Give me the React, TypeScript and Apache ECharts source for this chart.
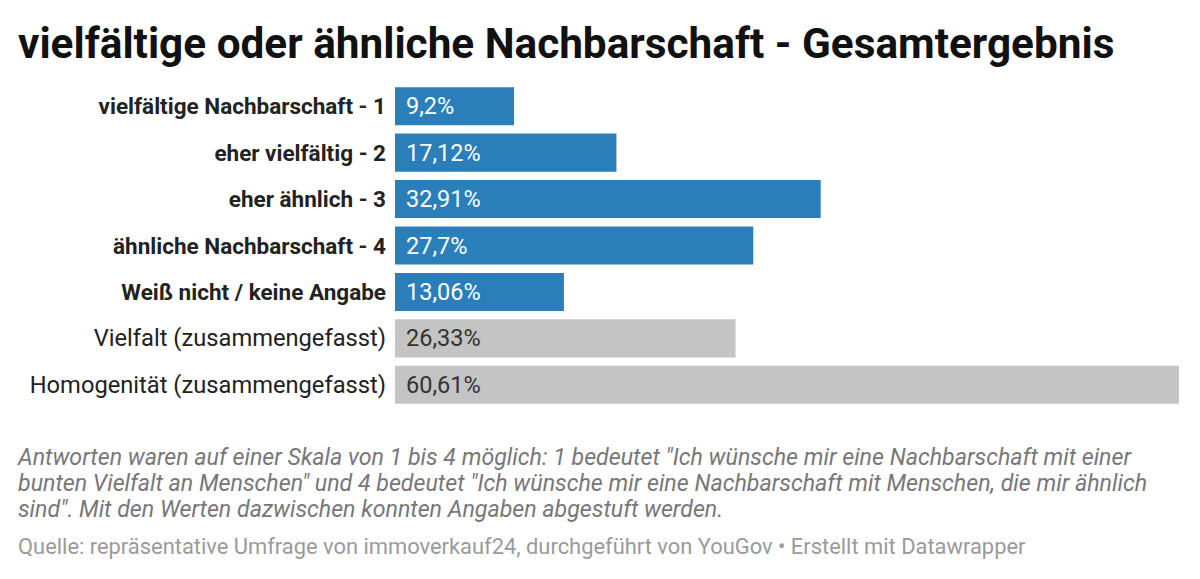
import React, { useEffect, useRef } from "react";
import * as echarts from "echarts";

const categories = [
  "vielfältige Nachbarschaft - 1",
  "eher vielfältig - 2",
  "eher ähnlich - 3",
  "ähnliche Nachbarschaft - 4",
  "Weiß nicht / keine Angabe",
  "Vielfalt (zusammengefasst)",
  "Homogenität (zusammengefasst)",
];
const values = [9.2, 17.12, 32.91, 27.7, 13.06, 26.33, 60.61];
const boldRows = [true, true, true, true, true, false, false];
const barColors = ["#2a7fba", "#2a7fba", "#2a7fba", "#2a7fba", "#2a7fba", "#c4c4c4", "#c4c4c4"];
const labelColors = ["#ffffff", "#ffffff", "#ffffff", "#ffffff", "#ffffff", "#333333", "#333333"];

const titleText = "vielfältige oder ähnliche Nachbarschaft - Gesamtergebnis";
const noteLines = [
  'Antworten waren auf einer Skala von 1 bis 4 möglich: 1 bedeutet "Ich wünsche mir eine Nachbarschaft mit einer',
  'bunten Vielfalt an Menschen" und 4 bedeutet "Ich wünsche mir eine Nachbarschaft mit Menschen, die mir ähnlich',
  'sind". Mit den Werten dazwischen konnten Angaben abgestuft werden.',
];
const sourceText = "Quelle: repräsentative Umfrage von immoverkauf24, durchgeführt von YouGov • Erstellt mit Datawrapper";

export default function App() {
  const ref = useRef<HTMLDivElement>(null);
  useEffect(() => {
    const chart = echarts.init(ref.current!, null, { renderer: "svg" });
    const font = "Roboto, 'Noto Sans', sans-serif";
    chart.setOption({
      animation: false,
      textStyle: { fontFamily: font },
      grid: { left: 395, right: 21, top: 83, bottom: 579 - 408, containLabel: false },
      xAxis: {
        type: "value",
        min: 0,
        max: 60.61,
        show: false,
      },
      yAxis: {
        type: "category",
        data: categories,
        inverse: true,
        axisLine: { show: false },
        axisTick: { show: false },
        axisLabel: {
          margin: 9,
          fontFamily: font,
          formatter: (v: string, i: number) => (boldRows[i] ? `{b|${v}}` : `{n|${v}}`),
          rich: {
            b: { fontSize: 22.5, fontWeight: "bold", color: "#222222", fontFamily: font },
            n: { fontSize: 23.7, color: "#222222", fontFamily: font },
          },
        },
      },
      series: [
        {
          type: "bar",
          barCategoryGap: "18%",
          data: values.map((v, i) => ({
            value: v,
            itemStyle: { color: barColors[i] },
            label: { color: labelColors[i] },
          })),
          label: {
            show: true,
            position: "insideLeft",
            distance: 11,
            fontSize: 23.5,
            fontFamily: font,
            formatter: (p: any) => String(p.value).replace(".", ",") + "%",
          },
        },
      ],
      graphic: [
        {
          type: "text",
          x: 18,
          y: 43,
          style: {
            text: titleText,
            fontSize: 42.3,
            fontWeight: "bold",
            fill: "#111111",
            fontFamily: font,
            verticalAlign: "middle",
          },
        },
        ...noteLines.map((t, i) => ({
          type: "text",
          x: 18,
          y: 457 + i * 26,
          style: {
            text: t,
            fontSize: 23.2,
            fontStyle: "italic",
            fill: "#777777",
            fontFamily: font,
            verticalAlign: "middle",
          },
        })),
        {
          type: "text",
          x: 18,
          y: 546,
          style: { text: sourceText, fontSize: 21.9, fill: "#9a9a9a", fontFamily: font, verticalAlign: "middle" },
        },
      ],
    });
    return () => chart.dispose();
  }, []);
  return (
    <div
      ref={ref}
      style={{ position: "fixed", left: 0, top: 0, width: 1200, height: 579, background: "#ffffff" }}
    />
  );
}
